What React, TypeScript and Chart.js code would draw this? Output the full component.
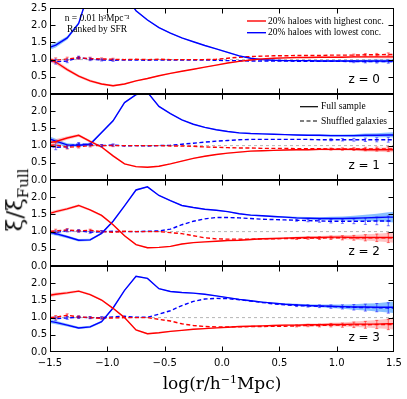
import { useEffect, useRef } from "react";
import { Chart, registerables } from "chart.js";

Chart.register(...registerables);

// ---- data ----
const logR = [
  -1.55, -1.45, -1.35, -1.25, -1.15, -1.05, -0.95, -0.85, -0.75, -0.65, -0.55, -0.45, -0.35, -0.25, -0.15, -0.05,
  0.05, 0.15, 0.25, 0.35, 0.45, 0.55, 0.65, 0.75, 0.85, 0.95, 1.05, 1.15, 1.25, 1.35, 1.45, 1.55,
];
const xTickValues = [-1.5, -1.0, -0.5, 0.0, 0.5, 1.0, 1.5];
const yTickValues = [0.0, 0.5, 1.0, 1.5, 2.0, 2.5];
const redshiftLabels = ["z = 0", "z = 1", "z = 2", "z = 3"];
const legendConc = ["20% haloes with highest conc.", "20% haloes with lowest conc."];
const legendSample = ["Full sample", "Shuffled galaxies"];
const annotation = ["n = 0.01 h\u00B3Mpc\u207B\u00B3", "Ranked by SFR"];

// z = 0
const highZ0 = [1.05, 0.93, 0.71, 0.52, 0.38, 0.29, 0.24, 0.29, 0.38, 0.45, 0.53, 0.6, 0.66, 0.72, 0.78, 0.84, 0.9, 0.95, 0.99, 1.02, 1.04, 1.05, 1.06, 1.06, 1.07, 1.07, 1.07, 1.08, 1.08, 1.08, 1.08, 1.08];
const lowZ0 = [1.3, 1.42, 1.63, 2.05, 3.1, 3.5, 3.5, 2.9, 2.42, 2.15, 1.93, 1.77, 1.63, 1.52, 1.41, 1.31, 1.21, 1.11, 1.04, 1.0, 0.98, 0.97, 0.97, 0.97, 0.96, 0.96, 0.96, 0.96, 0.96, 0.96, 0.96, 0.96];
const highShufZ0 = [1.0, 0.98, 1.02, 1.05, 1.03, 1.02, 1.01, 1.0, 1.01, 1.0, 1.01, 1.0, 1.0, 1.0, 1.0, 1.01, 1.04, 1.07, 1.09, 1.1, 1.11, 1.11, 1.12, 1.12, 1.12, 1.13, 1.13, 1.13, 1.14, 1.14, 1.15, 1.15];
const lowShufZ0 = [0.97, 0.94, 0.96, 1.06, 1.01, 0.99, 0.98, 0.99, 0.99, 0.98, 0.99, 0.99, 0.99, 0.99, 0.99, 0.98, 0.97, 0.97, 0.96, 0.96, 0.96, 0.96, 0.95, 0.95, 0.95, 0.95, 0.95, 0.94, 0.94, 0.94, 0.94, 0.94];
const errZ0 = [0.08, 0.07, 0.05, 0.04, 0.04, 0.03, 0.03, 0.02, 0.02, 0.02, 0.015, 0.015, 0.015, 0.015, 0.015, 0.015, 0.015, 0.015, 0.015, 0.015, 0.015, 0.015, 0.015, 0.015, 0.02, 0.02, 0.025, 0.03, 0.035, 0.04, 0.045, 0.05];

// z = 1
const highZ1 = [1.06, 1.12, 1.22, 1.3, 1.12, 0.96, 0.7, 0.47, 0.39, 0.37, 0.4, 0.47, 0.55, 0.63, 0.69, 0.74, 0.78, 0.81, 0.84, 0.85, 0.86, 0.87, 0.88, 0.88, 0.89, 0.89, 0.89, 0.89, 0.88, 0.88, 0.88, 0.88];
const lowZ1 = [1.25, 1.13, 1.02, 1.01, 1.04, 1.38, 1.72, 2.25, 2.48, 2.55, 2.14, 1.93, 1.75, 1.62, 1.53, 1.46, 1.41, 1.37, 1.35, 1.34, 1.33, 1.32, 1.31, 1.3, 1.3, 1.29, 1.29, 1.29, 1.3, 1.3, 1.31, 1.31];
const highShufZ1 = [1.0, 1.02, 0.95, 0.97, 1.0, 1.0, 1.0, 1.0, 1.0, 1.0, 1.0, 0.99, 0.99, 0.98, 0.96, 0.95, 0.94, 0.93, 0.93, 0.92, 0.92, 0.92, 0.91, 0.91, 0.91, 0.9, 0.9, 0.9, 0.9, 0.9, 0.9, 0.9];
const lowShufZ1 = [1.02, 0.95, 0.97, 1.05, 1.03, 1.0, 1.02, 0.99, 1.0, 0.99, 1.0, 1.01, 1.04, 1.07, 1.1, 1.13, 1.15, 1.17, 1.18, 1.18, 1.18, 1.18, 1.18, 1.18, 1.17, 1.17, 1.17, 1.17, 1.17, 1.17, 1.17, 1.17];
const errZ1 = [0.08, 0.07, 0.05, 0.04, 0.04, 0.03, 0.03, 0.02, 0.02, 0.02, 0.015, 0.015, 0.015, 0.015, 0.015, 0.015, 0.015, 0.015, 0.015, 0.015, 0.015, 0.015, 0.02, 0.02, 0.025, 0.03, 0.035, 0.04, 0.05, 0.06, 0.07, 0.08];

// z = 2
const highZ2 = [1.48, 1.58, 1.66, 1.76, 1.63, 1.47, 1.2, 0.88, 0.62, 0.53, 0.54, 0.57, 0.64, 0.68, 0.7, 0.72, 0.74, 0.75, 0.77, 0.79, 0.8, 0.81, 0.82, 0.83, 0.83, 0.84, 0.84, 0.83, 0.83, 0.83, 0.83, 0.83];
const lowZ2 = [1.0, 0.94, 0.85, 0.75, 0.76, 0.95, 1.3, 1.75, 2.21, 2.3, 2.05, 1.9, 1.76, 1.7, 1.65, 1.62, 1.58, 1.52, 1.48, 1.46, 1.44, 1.42, 1.4, 1.39, 1.38, 1.38, 1.38, 1.39, 1.4, 1.41, 1.42, 1.42];
const highShufZ2 = [1.0, 1.02, 1.05, 1.02, 1.04, 1.0, 0.98, 1.01, 1.0, 1.0, 1.0, 0.97, 0.94, 0.88, 0.82, 0.79, 0.78, 0.78, 0.78, 0.79, 0.79, 0.8, 0.8, 0.81, 0.81, 0.82, 0.82, 0.82, 0.82, 0.82, 0.82, 0.82];
const lowShufZ2 = [1.01, 0.97, 1.03, 1.02, 0.98, 1.0, 1.01, 1.0, 1.0, 1.01, 1.02, 1.07, 1.2, 1.3, 1.37, 1.41, 1.41, 1.4, 1.38, 1.36, 1.35, 1.34, 1.33, 1.32, 1.31, 1.3, 1.3, 1.3, 1.3, 1.31, 1.31, 1.31];
const errZ2 = [0.06, 0.05, 0.04, 0.035, 0.03, 0.03, 0.025, 0.02, 0.02, 0.02, 0.015, 0.015, 0.015, 0.015, 0.015, 0.015, 0.015, 0.015, 0.02, 0.02, 0.02, 0.025, 0.03, 0.035, 0.04, 0.05, 0.06, 0.07, 0.09, 0.11, 0.14, 0.17];

// z = 3
const highZ3 = [1.62, 1.68, 1.72, 1.77, 1.67, 1.51, 1.27, 1.0, 0.64, 0.53, 0.56, 0.6, 0.63, 0.66, 0.68, 0.7, 0.72, 0.74, 0.75, 0.76, 0.77, 0.78, 0.78, 0.79, 0.79, 0.8, 0.8, 0.81, 0.81, 0.81, 0.82, 0.82];
const lowZ3 = [0.92, 0.86, 0.78, 0.7, 0.73, 0.88, 1.28, 1.79, 2.2, 2.14, 1.84, 1.76, 1.73, 1.71, 1.68, 1.63, 1.58, 1.53, 1.49, 1.45, 1.42, 1.39, 1.37, 1.35, 1.34, 1.33, 1.32, 1.31, 1.31, 1.3, 1.3, 1.3];
const highShufZ3 = [1.0, 1.01, 1.07, 1.02, 1.0, 0.98, 0.99, 1.0, 1.0, 1.0, 0.95, 0.9, 0.82, 0.77, 0.74, 0.73, 0.73, 0.73, 0.74, 0.74, 0.75, 0.75, 0.76, 0.77, 0.77, 0.78, 0.78, 0.79, 0.79, 0.8, 0.8, 0.8];
const lowShufZ3 = [1.0, 0.97, 0.99, 1.01, 1.0, 1.0, 1.02, 1.04, 1.01, 1.01, 1.1, 1.2, 1.35, 1.47, 1.54, 1.56, 1.55, 1.52, 1.48, 1.44, 1.4, 1.37, 1.35, 1.34, 1.33, 1.32, 1.31, 1.3, 1.29, 1.29, 1.28, 1.28];
const errZ3 = [0.06, 0.05, 0.04, 0.035, 0.03, 0.03, 0.025, 0.02, 0.02, 0.02, 0.015, 0.015, 0.015, 0.015, 0.015, 0.015, 0.015, 0.015, 0.02, 0.02, 0.02, 0.025, 0.03, 0.035, 0.04, 0.05, 0.06, 0.08, 0.1, 0.12, 0.15, 0.18];

const panelSeries = [
  { high: highZ0, low: lowZ0, highShuf: highShufZ0, lowShuf: lowShufZ0, err: errZ0 },
  { high: highZ1, low: lowZ1, highShuf: highShufZ1, lowShuf: lowShufZ1, err: errZ1 },
  { high: highZ2, low: lowZ2, highShuf: highShufZ2, lowShuf: lowShufZ2, err: errZ2 },
  { high: highZ3, low: lowZ3, highShuf: highShufZ3, lowShuf: lowShufZ3, err: errZ3 },
];

// ---- layout / style ----
const W = 407;
const PANEL_TOPS = [8, 94, 180, 266];
const PANEL_H = 86;
const PAD_TOP = 10;
const AXIS_LEFT = 50;
const PAD_RIGHT = 13;
const XAXIS_H = 25;
const RED = "#ff0000";
const BLUE = "#0000ff";
const RED_BAND = "rgba(255,90,90,0.35)";
const BLUE_BAND = "rgba(40,140,255,0.55)";
const LW = 1.4;
const DASH = [4, 2.5];
const SERIF_SMALL = '9.5px "Liberation Serif"';

const pts = (arr: number[]) => logR.map((x, i) => ({ x, y: arr[i] }));
const band = (arr: number[], err: number[], s: number) => logR.map((x, i) => ({ x, y: arr[i] + s * err[i] }));
const fmt = (v: number) => (v < 0 ? "\u2212" + Math.abs(v).toFixed(1) : v.toFixed(1));

function framePlugin(idx: number) {
  return {
    id: "frame" + idx,
    afterDatasetsDraw(chart: any) {
      const { ctx, chartArea: a, scales } = chart;
      const xs = scales.x;
      const ys = scales.y;
      const s = panelSeries[idx];
      ctx.save();
      // error bars on shuffled curves
      const bars = [
        { arr: s.highShuf, color: "rgba(255,0,0,0.55)" },
        { arr: s.lowShuf, color: "rgba(0,0,255,0.55)" },
      ];
      ctx.beginPath();
      ctx.rect(a.left, a.top, a.right - a.left, a.bottom - a.top);
      ctx.clip();
      ctx.lineWidth = 1;
      bars.forEach((b) => {
        ctx.strokeStyle = b.color;
        logR.forEach((x, i) => {
          const e = s.err[i];
          if (e < 0.03) return;
          const px = xs.getPixelForValue(x);
          const y1 = ys.getPixelForValue(b.arr[i] - e);
          const y2 = ys.getPixelForValue(b.arr[i] + e);
          ctx.beginPath();
          ctx.moveTo(px, y1);
          ctx.lineTo(px, y2);
          ctx.moveTo(px - 1.5, y1);
          ctx.lineTo(px + 1.5, y1);
          ctx.moveTo(px - 1.5, y2);
          ctx.lineTo(px + 1.5, y2);
          ctx.stroke();
        });
      });
      ctx.restore();

      ctx.save();
      // frame
      const L = Math.round(a.left) + 0.5;
      const R = Math.round(a.right) - 0.5;
      const T = Math.round(a.top) + 0.5;
      const B = Math.round(a.bottom) - 0.5;
      ctx.strokeStyle = "#000";
      ctx.lineWidth = 1;
      ctx.strokeRect(L, T, R - L, B - T);
      // inward ticks
      ctx.beginPath();
      xTickValues.forEach((v) => {
        if (v <= -1.5 || v >= 1.5) return;
        const px = Math.round(xs.getPixelForValue(v)) + 0.5;
        ctx.moveTo(px, T);
        ctx.lineTo(px, T + 5);
        ctx.moveTo(px, B);
        ctx.lineTo(px, B - 5);
      });
      yTickValues.forEach((v) => {
        if (v <= 0 || v >= 2.5) return;
        const py = Math.round(ys.getPixelForValue(v)) + 0.5;
        ctx.moveTo(L, py);
        ctx.lineTo(L + 5, py);
        ctx.moveTo(R, py);
        ctx.lineTo(R - 5, py);
      });
      ctx.stroke();

      // redshift label
      ctx.fillStyle = "#000";
      ctx.font = '12px "DejaVu Sans"';
      ctx.textAlign = "right";
      ctx.textBaseline = "middle";
      ctx.fillText(redshiftLabels[idx], a.right - 14, a.bottom - 14);

      ctx.font = SERIF_SMALL;
      if (idx === 0) {
        ctx.textAlign = "center";
        ctx.fillText(annotation[0], a.left + 47, a.top + 10.5);
        ctx.fillText(annotation[1], a.left + 47, a.top + 21.5);
        const rows = [
          { y: a.top + 13, c: RED, t: legendConc[0] },
          { y: a.top + 24.7, c: BLUE, t: legendConc[1] },
        ];
        rows.forEach((r) => {
          ctx.strokeStyle = r.c;
          ctx.lineWidth = LW;
          ctx.beginPath();
          ctx.moveTo(a.right - 147, r.y);
          ctx.lineTo(a.right - 128, r.y);
          ctx.stroke();
          ctx.fillStyle = "#000";
          ctx.textAlign = "left";
          ctx.fillText(r.t, a.right - 126, r.y);
        });
      }
      if (idx === 1) {
        const rows = [
          { y: a.top + 12.7, d: [] as number[], t: legendSample[0] },
          { y: a.top + 27, d: DASH, t: legendSample[1] },
        ];
        rows.forEach((r) => {
          ctx.strokeStyle = "#000";
          ctx.lineWidth = 1.2;
          ctx.setLineDash(r.d);
          ctx.beginPath();
          ctx.moveTo(a.right - 94, r.y);
          ctx.lineTo(a.right - 76, r.y);
          ctx.stroke();
          ctx.setLineDash([]);
          ctx.fillStyle = "#000";
          ctx.textAlign = "left";
          ctx.fillText(r.t, a.right - 73, r.y);
        });
      }
      ctx.restore();
    },
  };
}

function buildConfig(idx: number): any {
  const s = panelSeries[idx];
  const last = idx === 3;
  const common = { pointRadius: 0, tension: 0, clip: 0 };
  return {
    type: "line",
    data: {
      datasets: [
        { ...common, label: "high", data: pts(s.high), borderColor: RED, borderWidth: LW, fill: false },
        { ...common, label: "low", data: pts(s.low), borderColor: BLUE, borderWidth: LW, fill: false },
        { ...common, label: "highShuf", data: pts(s.highShuf), borderColor: RED, borderWidth: LW, borderDash: DASH, fill: false },
        { ...common, label: "lowShuf", data: pts(s.lowShuf), borderColor: BLUE, borderWidth: LW, borderDash: DASH, fill: false },
        { ...common, label: "highUp", data: band(s.high, s.err, 1), borderColor: "rgba(0,0,0,0)", borderWidth: 1, fill: { target: 5 }, backgroundColor: RED_BAND },
        { ...common, label: "highLo", data: band(s.high, s.err, -1), borderColor: "rgba(0,0,0,0)", borderWidth: 1, fill: false },
        { ...common, label: "lowUp", data: band(s.low, s.err, 1), borderColor: "rgba(0,0,0,0)", borderWidth: 1, fill: { target: 7 }, backgroundColor: BLUE_BAND },
        { ...common, label: "lowLo", data: band(s.low, s.err, -1), borderColor: "rgba(0,0,0,0)", borderWidth: 1, fill: false },
        { ...common, label: "unity", data: [{ x: -1.5, y: 1 }, { x: 1.5, y: 1 }], borderColor: "#b5b5b5", borderWidth: 1, borderDash: [3, 3], fill: false },
      ],
    },
    options: {
      responsive: false,
      animation: false,
      events: [],
      layout: { padding: { top: PAD_TOP, left: 0, right: PAD_RIGHT, bottom: last ? 0 : 10 } },
      plugins: { legend: { display: false }, tooltip: { enabled: false } },
      scales: {
        x: {
          type: "linear",
          min: -1.5,
          max: 1.5,
          display: last,
          grid: { display: false, drawTicks: false },
          border: { display: false },
          ticks: {
            stepSize: 0.5,
            autoSkip: false,
            maxRotation: 0,
            padding: 5,
            color: "#000",
            font: { family: "DejaVu Sans", size: 10 },
            callback: (v: number) => fmt(v),
          },
          afterFit: (sc: any) => {
            sc.height = last ? XAXIS_H : 0;
          },
        },
        y: {
          type: "linear",
          min: 0,
          max: 2.5,
          grid: { display: false, drawTicks: false },
          border: { display: false },
          ticks: {
            stepSize: 0.5,
            padding: 3,
            color: "#000",
            font: { family: "DejaVu Sans", size: 10 },
            callback: (v: number) => (idx > 0 && v >= 2.5 ? "" : fmt(v)),
          },
          afterFit: (sc: any) => {
            sc.width = AXIS_LEFT;
          },
        },
      },
    },
    plugins: [framePlugin(idx)],
  };
}

export default function App() {
  const r0 = useRef<HTMLCanvasElement>(null);
  const r1 = useRef<HTMLCanvasElement>(null);
  const r2 = useRef<HTMLCanvasElement>(null);
  const r3 = useRef<HTMLCanvasElement>(null);
  const refs = [r0, r1, r2, r3];

  useEffect(() => {
    const charts = refs.map((r, i) => new Chart(r.current as HTMLCanvasElement, buildConfig(i)));
    return () => charts.forEach((c) => c.destroy());
  }, []);

  return (
    <div style={{ position: "fixed", left: 0, top: 0, width: W, height: 399, background: "#fff", overflow: "hidden" }}>
      {PANEL_TOPS.map((t, i) => {
        const h = PAD_TOP + PANEL_H + (i === 3 ? XAXIS_H : 10);
        return (
          <canvas
            key={i}
            ref={refs[i]}
            width={W}
            height={h}
            style={{ position: "absolute", left: 0, top: t - PAD_TOP, width: W, height: h, display: "block" }}
          />
        );
      })}
      <div
        style={{
          position: "absolute",
          left: 17,
          top: 200,
          transform: "translate(-50%, -50%) rotate(-90deg)",
          fontFamily: '"DejaVu Serif", serif',
          fontSize: 23,
          whiteSpace: "nowrap",
          lineHeight: 1,
        }}
      >
        {"\u03BE/\u03BE"}
        <sub style={{ fontSize: 15 }}>Full</sub>
      </div>
      <div
        style={{
          position: "absolute",
          left: 222,
          top: 383,
          transform: "translate(-50%, -50%)",
          fontFamily: '"DejaVu Serif", serif',
          fontSize: 17,
          whiteSpace: "nowrap",
          lineHeight: 1,
        }}
      >
        log(r/h<sup style={{ fontSize: 11 }}>{"\u22121"}</sup>Mpc)
      </div>
    </div>
  );
}
